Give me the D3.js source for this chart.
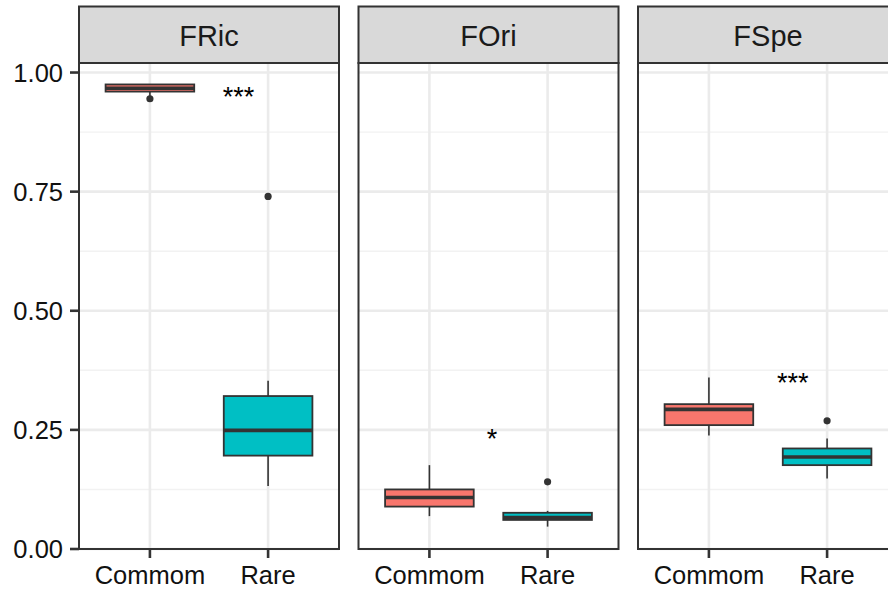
<!DOCTYPE html>
<html>
<head>
<meta charset="utf-8">
<script src="https://cdn.jsdelivr.net/npm/d3@7"></script>
<style>
  body { margin: 0; background: #fff; }
  svg { display: block; font-family: "Liberation Sans", Arial, sans-serif; }
</style>
</head>
<body>
<svg id="chart" width="888" height="590"></svg>
<script>
// box stats, [Commom, Rare] per panel
const panels = ["FRic", "FOri", "FSpe"];
const groups = ["Commom", "Rare"];
const whiskerLow  = [[0.950, 0.132], [0.069, 0.047], [0.238, 0.148]];
const q1          = [[0.960, 0.196], [0.089, 0.061], [0.260, 0.176]];
const medians     = [[0.967, 0.249], [0.108, 0.066], [0.293, 0.193]];
const q3          = [[0.975, 0.321], [0.125, 0.076], [0.304, 0.211]];
const whiskerHigh = [[0.975, 0.353], [0.176, 0.080], [0.360, 0.232]];
const outliers    = [[[0.945], [0.740]], [[], [0.141]], [[], [0.269]]];
const signif  = ["***", "*", "***"];
const signifX = [1.75, 1.53, 1.71];
const signifY = [0.957, 0.239, 0.355];
const yTicks = [0, 0.25, 0.5, 0.75, 1];
const yMinor = [0.125, 0.375, 0.625, 0.875];
const fills = ["#F8766D", "#00BFC4"];

const svg = d3.select("#chart");
const panelW = 260, gap = 19.5, left0 = 79;
const stripTop = 6.5, panelTop = 63, panelBottom = 549;

const y = d3.scaleLinear().domain([0, 1.02]).range([panelBottom, panelTop]);
const boxW = 0.75;

panels.forEach(function(name, p) {
  const x0 = left0 + p * (panelW + gap);
  const x = d3.scaleLinear().domain([0.4, 2.6]).range([x0, x0 + panelW]);
  const g = svg.append("g");

  // grid
  g.selectAll(".minor").data(yMinor).join("line")
    .attr("x1", x0).attr("x2", x0 + panelW)
    .attr("y1", d => y(d)).attr("y2", d => y(d))
    .attr("stroke", "#F2F2F2").attr("stroke-width", 1.4);
  g.selectAll(".major").data(yTicks).join("line")
    .attr("x1", x0).attr("x2", x0 + panelW)
    .attr("y1", d => y(d)).attr("y2", d => y(d))
    .attr("stroke", "#EBEBEB").attr("stroke-width", 2.6);
  g.selectAll(".vgrid").data(groups).join("line")
    .attr("x1", (d, i) => x(i + 1)).attr("x2", (d, i) => x(i + 1))
    .attr("y1", panelTop).attr("y2", panelBottom)
    .attr("stroke", "#EBEBEB").attr("stroke-width", 2.6);

  // boxes
  groups.forEach(function(grp, i) {
    const cx = x(i + 1);
    const hw = (x(1 + boxW / 2) - x(1));
    g.append("line")
      .attr("x1", cx).attr("x2", cx)
      .attr("y1", y(q3[p][i])).attr("y2", y(whiskerHigh[p][i]))
      .attr("stroke", "#333333").attr("stroke-width", 1.6);
    g.append("line")
      .attr("x1", cx).attr("x2", cx)
      .attr("y1", y(q1[p][i])).attr("y2", y(whiskerLow[p][i]))
      .attr("stroke", "#333333").attr("stroke-width", 1.6);
    g.append("rect")
      .attr("x", cx - hw).attr("width", 2 * hw)
      .attr("y", y(q3[p][i])).attr("height", y(q1[p][i]) - y(q3[p][i]))
      .attr("fill", fills[i]).attr("stroke", "#333333").attr("stroke-width", 1.8);
    g.append("line")
      .attr("x1", cx - hw).attr("x2", cx + hw)
      .attr("y1", y(medians[p][i])).attr("y2", y(medians[p][i]))
      .attr("stroke", "#333333").attr("stroke-width", 3.6);
    g.selectAll(".out" + i).data(outliers[p][i]).join("circle")
      .attr("cx", cx).attr("cy", d => y(d)).attr("r", 3.6)
      .attr("fill", "#333333");
  });

  // significance stars
  g.append("text")
    .attr("x", x(signifX[p])).attr("y", y(signifY[p]) + 12.5)
    .attr("text-anchor", "middle")
    .attr("font-size", 27).attr("fill", "#000")
    .text(signif[p]);

  // panel border
  g.append("rect")
    .attr("x", x0).attr("y", panelTop).attr("width", panelW).attr("height", panelBottom - panelTop)
    .attr("fill", "none").attr("stroke", "#333333").attr("stroke-width", 2);

  // strip
  g.append("rect")
    .attr("x", x0).attr("y", stripTop).attr("width", panelW).attr("height", panelTop - stripTop)
    .attr("fill", "#D9D9D9").attr("stroke", "#333333").attr("stroke-width", 2);
  g.append("text")
    .attr("x", x0 + panelW / 2).attr("y", 45.5)
    .attr("text-anchor", "middle")
    .attr("font-size", 29).attr("fill", "#1A1A1A")
    .text(name);

  // x axis ticks + labels
  g.selectAll(".xtick").data(groups).join("line")
    .attr("x1", (d, i) => x(i + 1)).attr("x2", (d, i) => x(i + 1))
    .attr("y1", panelBottom).attr("y2", panelBottom + 9)
    .attr("stroke", "#333333").attr("stroke-width", 2.6);
  g.selectAll(".xlab").data(groups).join("text")
    .attr("x", (d, i) => x(i + 1)).attr("y", 584)
    .attr("text-anchor", "middle")
    .attr("font-size", 25.5).attr("fill", "#111")
    .text(d => d);
});

// y axis
const ya = svg.append("g");
ya.selectAll("line").data(yTicks).join("line")
  .attr("x1", left0 - 9).attr("x2", left0)
  .attr("y1", d => y(d)).attr("y2", d => y(d))
  .attr("stroke", "#333333").attr("stroke-width", 2.6);
ya.selectAll("text").data(yTicks).join("text")
  .attr("x", left0 - 16).attr("y", d => y(d) + 9)
  .attr("text-anchor", "end")
  .attr("font-size", 25.5).attr("fill", "#111")
  .text(d => d3.format(".2f")(d));
</script>
</body>
</html>
